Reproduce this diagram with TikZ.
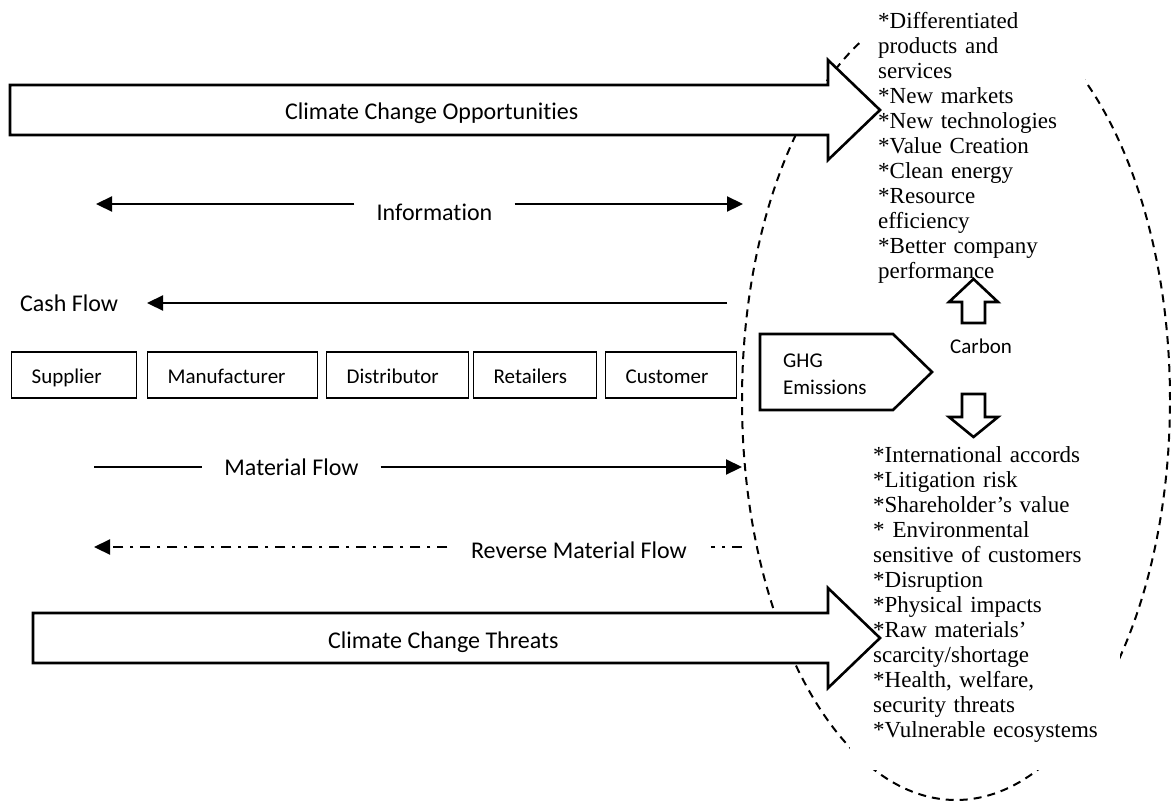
\documentclass[tikz,border=0pt]{standalone}
\usepackage{fontspec}
\setmainfont{Carlito}[Ligatures=NoCommon]
\newfontfamily\serifbody{Liberation Serif}[Ligatures=NoCommon]
\usetikzlibrary{arrows.meta}
\begin{document}
\begin{tikzpicture}[x=1pt,y=-1pt,
  flow/.style={line width=2.2pt},
  arr/.style={-{Triangle[length=16pt,width=15pt]}},
  rdash/.style={dash pattern=on 10pt off 7pt on 3pt off 7pt},
  lab/.style={font=\fontsize{24}{28}\selectfont, inner sep=0pt},
  gaplab/.style={font=\fontsize{24}{28}\selectfont, inner xsep=22pt, inner ysep=0pt, anchor=base},
  small/.style={font=\fontsize{21}{27}\selectfont, inner sep=0pt},
  chainbox/.style={draw, line width=1.3pt, font=\fontsize{21}{25}\selectfont, minimum height=46pt,
     inner xsep=20pt, inner ysep=0pt, align=left, anchor=west, text height=20pt, text depth=4pt},
  big/.style={draw, line width=2.6pt, fill=white, line join=miter},
  txt/.style={font=\serifbody\fontsize{23}{25}\selectfont, inner sep=0pt, align=left, text width=260pt, anchor=base west},
  ell/.style={dash pattern=on 8pt off 6pt, line width=2pt}
]
\useasboundingbox (0,0) rectangle (1171,801);
\clip (0,0) rectangle (1171,801);

% dashed ellipse (partly hidden by the text boxes and the big arrows)
\draw[ell] (956,400) ellipse [x radius=214pt, y radius=400pt];
\fill[white] (862,0) rectangle (1085,285);
\fill[white] (850,440) rectangle (1120,770);

% big arrows
\draw[big] (10,85) -- (828,85) -- (828,60) -- (880,110) -- (828,160) -- (828,135) -- (10,135) -- cycle;
\draw[big] (33,613) -- (828,613) -- (828,588) -- (880,638) -- (828,688) -- (828,663) -- (33,663) -- cycle;

% GHG shape
\draw[big] (760,334) -- (893,334) -- (932,372) -- (893,410) -- (760,410) -- cycle;

% carbon up / down arrows
\draw[big] (962,323) -- (962,302) -- (949,302) -- (973.5,279) -- (998,302) -- (985,302) -- (985,323) -- cycle;
\draw[big] (962,394) -- (985,394) -- (985,417) -- (998,417) -- (973.5,437) -- (949,417) -- (962,417) -- cycle;

% supply chain boxes
\node[chainbox, text width=85pt] (sup) at (11,375) {Supplier};
\node[chainbox, text width=130pt] (man) at (147,375) {Manufacturer};
\node[chainbox, text width=102pt] (dis) at (326,375) {Distributor};
\node[chainbox, text width=83pt] (ret) at (473,375) {Retailers};
\node[chainbox, text width=91pt] (cus) at (605,375) {Customer};

% flow labels
\node[gaplab] (info) at (434.5,220) {Information};
\node[lab, anchor=base west] (cash) at (20,311) {Cash Flow};
\node[gaplab] (mat) at (291.5,475) {Material Flow};
\node[gaplab, inner xsep=23.5pt] (rev) at (579,558) {Reverse Material Flow};

\coordinate (infoL) at (96,204);
\coordinate (infoR) at (743,204);
\coordinate (cashR) at (727,303);
\coordinate (cashL) at (147,303);
\coordinate (matL) at (94,467);
\coordinate (matR) at (742,467);
\coordinate (revL) at (94,547);
\coordinate (revR) at (742,547);

\draw[flow,arr] (info.west |- infoL) -- (infoL);
\draw[flow,arr] (info.east |- infoR) -- (infoR);
\draw[flow,arr] (cashR) -- (cashL);
\draw[flow] (matL) -- (mat.west |- matL);
\draw[flow,arr] (mat.east |- matR) -- (matR);
\draw[flow,rdash,arr] (rev.west |- revL) -- (revL);
\draw[flow,rdash] (revR) -- (rev.east |- revR);

% texts
\node[lab, anchor=base west] (opp) at (285,119) {Climate Change Opportunities};
\node[lab, anchor=base west] (thr) at (328,648) {Climate Change Threats};
\node[small, anchor=base west, align=left, text width=100pt] (ghg) at (783,367) {GHG\\Emissions};
\node[small, anchor=base west] (carbon) at (950,353) {Carbon};

\node[txt] (opplist) at (878,28) {*Differentiated\\{}products and\\{}services\\{}*New markets\\{}*New technologies\\{}*Value Creation\\{}*Clean energy\\{}*Resource\\{}efficiency\\{}*Better company\\{}performance};
\node[txt] (thrlist) at (873,462) {*International accords\\{}*Litigation risk\\{}*Shareholder’s value\\{}*\hspace{8pt}Environmental\\{}sensitive of customers\\{}*Disruption\\{}*Physical impacts\\{}*Raw materials’\\{}scarcity/shortage\\{}*Health, welfare,\\{}security threats\\{}*Vulnerable ecosystems};
\end{tikzpicture}
\end{document}
